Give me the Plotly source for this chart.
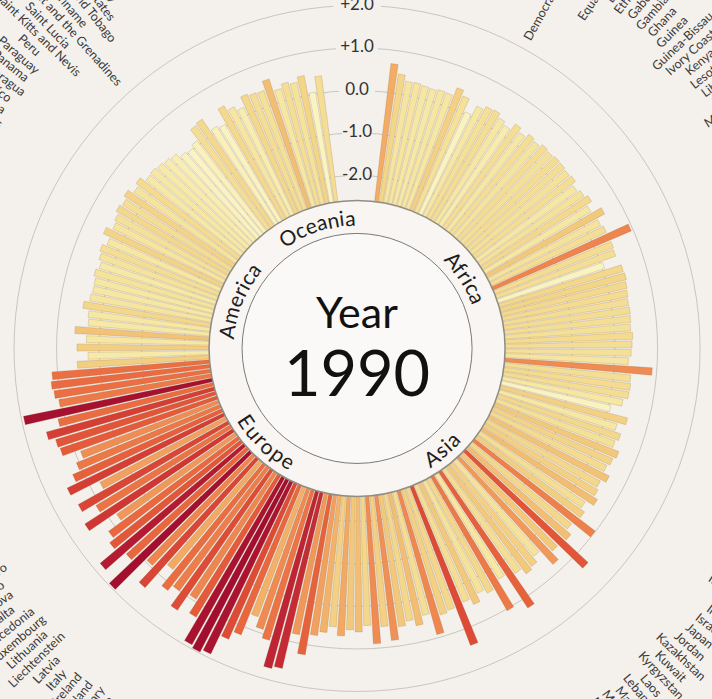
import math
import plotly.graph_objects as go

W, H = 712, 699
BG = "#f4f0ec"
FONT = "Lato"

# ---------------- data ----------------
africa_names = ["Algeria", "Angola", "Benin", "Botswana", "Burkina Faso", "Burundi", "Cameroon",
                "Cape Verde", "Central African Republic", "Chad", "Comoros", "Congo",
                "Democratic Republic of the Congo", "Djibouti", "Egypt", "Equatorial Guinea",
                "Eritrea", "Ethiopia", "Gabon", "Gambia", "Ghana", "Guinea", "Guinea-Bissau",
                "Ivory Coast", "Kenya", "Lesotho", "Liberia", "Libya", "Madagascar", "Malawi",
                "Mali", "Mauritania", "Mauritius", "Morocco", "Mozambique", "Namibia", "Niger",
                "Nigeria", "Rwanda", "Sao Tome and Principe", "Senegal", "Seychelles",
                "Sierra Leone", "Somalia", "South Africa", "Sudan", "Swaziland", "Tanzania",
                "Togo", "Tunisia", "Uganda", "Zambia", "Zimbabwe"]
africa_vals = [0.68, 0.46, 0.32, 0.33, 0.30, 0.28, 0.31, 0.30, 0.50, 0.37,
               0.05, 0.29, 0.38, 0.40, 0.30, 0.22, 0.39, 0.29, 0.39, 0.34,
               0.41, 0.38, 0.41, 0.40, 0.37, 0.40, 0.29, 0.36, 0.44, 0.30,
               0.56, 0.35, 0.40, 0.95, 0.41, 0.39, 0.05, 0.45, 0.47, 0.44,
               0.42, 0.40, 0.41, 0.40, 0.38, 0.42, 0.40, 0.38, 0.32, 0.89,
               0.40, 0.42, 0.41]

asia_names = ["Afghanistan", "Armenia", "Azerbaijan", "Bahrain", "Bangladesh", "Bhutan", "Brunei",
              "Cambodia", "China", "Cyprus", "Georgia", "India", "Indonesia", "Iran", "Iraq",
              "Israel", "Japan", "Jordan", "Kazakhstan", "Kuwait", "Kyrgyzstan", "Laos",
              "Lebanon", "Macau", "Malaysia", "Maldives", "Mongolia", "Myanmar", "Nepal",
              "North Korea", "Oman", "Pakistan", "Palestine", "Philippines", "Qatar",
              "Saudi Arabia", "Singapore", "South Korea", "Sri Lanka", "Syria", "Taiwan",
              "Tajikistan", "Thailand", "Timor-Leste", "Turkey", "Turkmenistan",
              "United Arab Emirates", "Uzbekistan", "Vietnam", "Yemen"]
asia_vals = [0.30, 0.05, 0.50, 0.30, 0.45, 0.38, 0.55, 0.48, 0.42, 0.58,
             0.45, 0.50, 0.61, 0.40, 0.52, 0.99, 0.45, 0.60, 1.34, 0.55,
             0.79, 0.35, 0.50, 0.56, 0.40, 1.24, 0.30, 1.04, 0.45, 0.35,
             0.55, 0.40, 1.41, 0.45, 0.50, 0.92, 0.40, 0.60, 0.45, 0.55,
             0.85, 0.50, 0.89, 0.45, 0.60, 0.55, 0.70, 0.50, 0.65, 0.75]

europe_names = ["Albania", "Andorra", "Austria", "Belarus", "Belgium", "Bosnia and Herzegovina",
                "Bulgaria", "Croatia", "Czech Republic", "Denmark", "Estonia", "Finland",
                "France", "Germany", "Greece", "Hungary", "Iceland", "Ireland", "Italy", "Latvia",
                "Liechtenstein", "Lithuania", "Luxembourg", "Macedonia", "Malta", "Moldova",
                "Monaco", "Montenegro", "Netherlands", "Norway", "Poland", "Portugal", "Romania",
                "Russia", "San Marino", "Serbia", "Slovakia", "Slovenia", "Spain", "Sweden",
                "Switzerland", "Ukraine", "United Kingdom"]
europe_vals = [1.24, 0.80, 1.66, 1.72, 1.10, 0.90, 0.66, 1.20, 1.41, 1.90,
               1.97, 1.91, 1.30, 0.94, 1.40, 1.00, 1.16, 0.70, 1.45, 0.95,
               1.96, 1.20, 1.81, 1.33, 1.19, 0.80, 1.55, 1.10, 1.45, 0.75,
               1.50, 1.25, 1.06, 0.87, 1.30, 1.34, 1.50, 1.16, 1.94, 1.05,
               1.13, 1.17, 1.13]

america_names = ["Antigua and Barbuda", "Argentina", "Bahamas", "Barbados", "Belize", "Bolivia",
                 "Brazil", "Canada", "Chile", "Colombia", "Costa Rica", "Cuba", "Dominica",
                 "Dominican Republic", "Ecuador", "El Salvador", "Grenada", "Guatemala", "Guyana",
                 "Haiti", "Honduras", "Jamaica", "Mexico", "Nicaragua", "Panama", "Paraguay",
                 "Peru", "Saint Kitts and Nevis", "Saint Lucia",
                 "Saint Vincent and the Grenadines", "Suriname", "Trinidad and Tobago",
                 "United States", "Uruguay", "Venezuela"]
america_vals = [0.52, 0.26, 0.52, 0.30, 0.58, 0.28, 0.30, 0.45, 0.32, 0.29,
                0.30, 0.35, 0.28, 0.35, 0.40, 0.30, 0.48, 0.33, 0.38, 0.45,
                0.40, 0.48, 0.34, 0.42, 0.28, 0.30, 0.26, 0.22, 0.18, 0.06,
                0.02, 0.10, 0.40, 0.44, 0.11]

oceania_names = ["Australia", "Fiji", "Kiribati", "Marshall Islands", "Micronesia", "Nauru",
                 "New Zealand", "Palau", "Papua New Guinea", "Samoa", "Solomon Islands",
                 "Tonga", "Tuvalu", "Vanuatu"]
oceania_vals = [0.05, 0.44, 0.31, 0.20, 0.45, 0.40, 0.38, 0.60, 0.30, 0.40,
                0.35, 0.47, 0.04, 0.40]

region_labels = ["Africa", "Asia", "Europe", "America", "Oceania"]
region_label_angles = [57, 140, 224, 292, 342]

tick_values = [-2, -1, 0, 1, 2]
tick_labels = ["-2.0", "-1.0", "0.0", "+1.0", "+2.0"]
year_label = "1990"

# ---------------- layout geometry ----------------
THETA0 = 7.5      # first bar angle (deg, clockwise from top)
STEP = 1.775      # angular pitch per country
R_MIN, R_MAX = -2.588, 2.128

DOM_X = [0.003, 1.0]
DOM_Y = [0.003, 1.0]
xa, xb = DOM_X[0] * W, DOM_X[1] * W
ya, yb = (1 - DOM_Y[1]) * H, (1 - DOM_Y[0]) * H
CX, CY = (xa + xb) / 2, (ya + yb) / 2
RAD = min(xb - xa, yb - ya) / 2
HOLE_PX = 148
INNER_PX = 115
RING_MID = 131.5
LABEL_R = 447

regions = [africa_names, asia_names, europe_names, america_names, oceania_names]
region_vals = [africa_vals, asia_vals, europe_vals, america_vals, oceania_vals]
names, vals = [], []
for n, v in zip(regions, region_vals):
    names += n
    vals += v
thetas = [THETA0 + i * STEP for i in range(len(vals))]

colorscale = [
    [0.00, "#faf4c6"], [0.12, "#f7ebac"], [0.18, "#f5e29a"], [0.23, "#f3d68a"],
    [0.28, "#f2c87a"], [0.33, "#f2b068"], [0.40, "#f0975a"], [0.48, "#ee834d"],
    [0.58, "#ea6c41"], [0.68, "#e15238"], [0.78, "#cf3534"], [0.90, "#b51c33"],
    [1.00, "#a00c2f"],
]

fig = go.Figure()

# mask wedge behind radial tick labels (breaks grid circles)
fig.add_trace(go.Barpolar(
    theta=[0], r=[R_MAX - R_MIN], base=[R_MIN], width=[8],
    marker=dict(color=BG, line=dict(width=0)), hoverinfo="skip", showlegend=False,
))

fig.add_trace(go.Barpolar(
    theta=thetas, r=[v - R_MIN for v in vals], base=[R_MIN] * len(vals),
    width=[STEP * 0.82] * len(vals), text=names,
    marker=dict(color=vals, colorscale=colorscale, cmin=0, cmax=2,
                line=dict(color="rgba(140,105,60,0.35)", width=0.6)),
    hoverinfo="text", showlegend=False,
))

fig.add_trace(go.Scatterpolar(
    theta=[0] * len(tick_values), r=tick_values, text=tick_labels, mode="text",
    textfont=dict(family=FONT, size=17, color="#333333"), hoverinfo="skip",
    showlegend=False, cliponaxis=False,
))


def to_paper(r, theta_deg):
    a = math.radians(theta_deg)
    px = CX + r * math.sin(a)
    py = CY - r * math.cos(a)
    return px / W, 1 - py / H


annotations = []

# country labels around the outside
for name, th in zip(names, thetas):
    x, y = to_paper(LABEL_R, th)
    ang = th - 90 if th < 180 else th - 270
    annotations.append(dict(x=x, y=y, xref="paper", yref="paper", text=name,
                            showarrow=False, textangle=ang, xanchor="center",
                            yanchor="middle",
                            font=dict(family=FONT, size=12.5, color="#3a3a3a")))

# curved region labels, one character at a time
CW = {"O": 0.78, "c": 0.46, "e": 0.52, "a": 0.50, "n": 0.55, "i": 0.24, "A": 0.66,
      "f": 0.31, "r": 0.36, "s": 0.41, "E": 0.55, "u": 0.55, "o": 0.55, "p": 0.56,
      "m": 0.83}
RFS = 21
for lab, th_c in zip(region_labels, region_label_angles):
    widths = [CW.get(ch, 0.5) * RFS + 0.8 for ch in lab]
    total = sum(widths)
    span = math.degrees(total / RING_MID)
    bottom = 90 < th_c < 270
    cum = 0
    for ch, w in zip(lab, widths):
        off = math.degrees((cum + w / 2) / RING_MID)
        cum += w
        if bottom:
            th = th_c + span / 2 - off
            rot = th - 180
        else:
            th = th_c - span / 2 + off
            rot = th
        rot = (rot + 180) % 360 - 180
        x, y = to_paper(RING_MID, th)
        annotations.append(dict(x=x, y=y, xref="paper", yref="paper", text=ch,
                                showarrow=False, textangle=rot, xanchor="center",
                                yanchor="middle",
                                font=dict(family=FONT, size=RFS, color="#1e1e1e")))

# centre text
annotations.append(dict(x=CX / W, y=1 - 311 / H, xref="paper", yref="paper", text="Year",
                        showarrow=False, font=dict(family=FONT, size=43, color="#111111")))
annotations.append(dict(x=CX / W, y=1 - 371 / H, xref="paper", yref="paper", text=year_label,
                        showarrow=False, font=dict(family=FONT, size=63, color="#111111")))


def circle(r, fill, line_color, lw):
    return dict(type="circle", xref="paper", yref="paper",
                x0=(CX - r) / W, x1=(CX + r) / W, y0=1 - (CY + r) / H, y1=1 - (CY - r) / H,
                fillcolor=fill, line=dict(color=line_color, width=lw), layer="above")


shapes = [circle(HOLE_PX, "#f8f5f2", "#8f8d84", 1.5),
          circle(INNER_PX, "#fbf9f7", "#7a7a7a", 1.0)]

fig.update_layout(
    width=W, height=H, paper_bgcolor=BG, plot_bgcolor=BG,
    margin=dict(l=0, r=0, t=0, b=0), showlegend=False,
    polar=dict(
        domain=dict(x=DOM_X, y=DOM_Y), bgcolor=BG, hole=HOLE_PX / RAD,
        radialaxis=dict(range=[R_MIN, R_MAX], tickvals=tick_values, showticklabels=False,
                        ticks="", showline=False, gridcolor="#c9c5c0", gridwidth=1, angle=90),
        angularaxis=dict(rotation=90, direction="clockwise", showgrid=False,
                         showticklabels=False, ticks="", showline=False),
    ),
    annotations=annotations, shapes=shapes,
)

fig.write_html("out.html", config={"displayModeBar": False},
               post_script="document.body.style.margin='0';"
               "document.body.style.background='" + BG + "';")
